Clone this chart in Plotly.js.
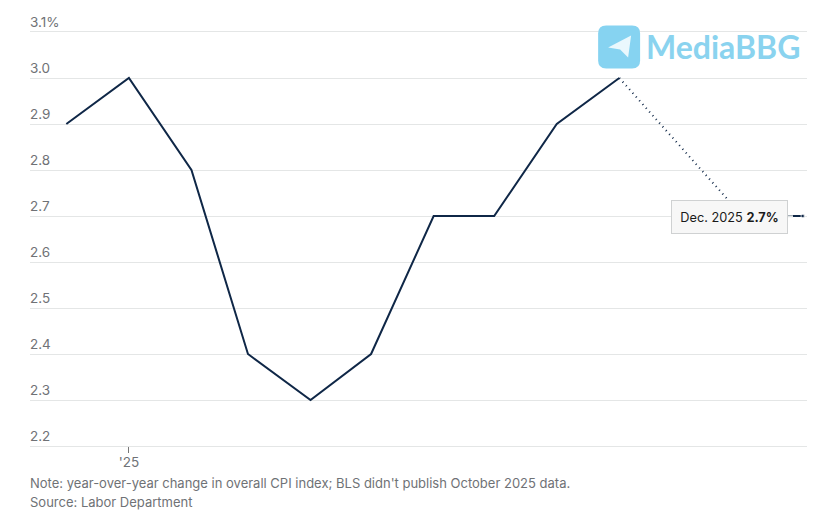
<!DOCTYPE html>
<html>
<head>
<meta charset="utf-8">
<script src="https://cdn.plot.ly/plotly-3.0.1.min.js"></script>
<style>html,body{margin:0;padding:0;background:#fff}</style>
</head>
<body>
<div id="chart" style="width:816px;height:523px"></div>
<script>
const solidDates = ['2024-12-01','2025-01-01','2025-02-01','2025-03-01','2025-04-01','2025-05-01','2025-06-01','2025-07-01','2025-08-01','2025-09-01'];
const solidValues = [2.9,3.0,2.8,2.4,2.3,2.4,2.7,2.7,2.9,3.0];
const gapDates = ['2025-09-01','2025-11-01'];
const gapValues = [3.0,2.7];
const endDates = ['2025-11-01','2025-12-01'];
const endValues = [2.7,2.7];
const yTicks = [2.2,2.3,2.4,2.5,2.6,2.7,2.8,2.9,3.0,3.1];
const yLabels = ['2.2','2.3','2.4','2.5','2.6','2.7','2.8','2.9','3.0','3.1%'];
const xTicks = ['2025-01-01'];
const xLabels = ["'25"];
const noteText = "Note: year-over-year change in overall CPI index; BLS didn't publish October 2025 data.";
const sourceText = "Source: Labor Department";
const labelText = "Dec. 2025 <b>2.7%</b>";

const W = 816, H = 523, L = 29.5, R = 9, T = 31.5, B = 77;
const px = x => (x - L) / (W - L - R);
const py = y => 1 - (y - T) / (H - T - B);
const navy = '#0f2747', grey = '#6f7276', gridCol = '#e4e6e6';
const fontFam = 'Inter, "Liberation Sans", sans-serif';

const traces = [
  {x: solidDates, y: solidValues, mode:'lines', line:{color:navy,width:2}, hoverinfo:'skip'},
  {x: gapDates, y: gapValues, mode:'lines', line:{color:navy,width:2,dash:'1px 4px'}, hoverinfo:'skip'},
  {x: endDates, y: endValues, mode:'lines+markers', line:{color:navy,width:2}, marker:{color:navy,size:[0,4]}, hoverinfo:'skip'}
];
const layout = {
  width: W, height: H,
  margin:{l:L,r:R,t:T,b:B,pad:0},
  paper_bgcolor:'#fff', plot_bgcolor:'#fff',
  showlegend:false,
  font:{family:fontFam,color:grey,size:13},
  xaxis:{type:'date',range:['2024-11-13','2025-12-03'],tickmode:'array',tickvals:xTicks,ticktext:xLabels,
    showgrid:false,zeroline:false,showline:true,mirror:true,linecolor:gridCol,linewidth:1,
    ticks:'outside',ticklen:6,tickwidth:1,tickcolor:'#777',ticklabelstandoff:-2,
    tickfont:{family:fontFam,size:13.5,color:grey}},
  yaxis:{range:[2.2,3.1],tickmode:'array',tickvals:yTicks,ticktext:yLabels,
    ticklabelposition:'inside',ticklabeloverflow:'allow',ticklabelshift:-10,ticklabelstandoff:-3,ticks:'',
    showgrid:true,gridcolor:gridCol,gridwidth:1,zeroline:false,showline:false,
    tickfont:{family:fontFam,size:13.5,color:grey}},
  shapes:[
    {type:'line',xref:'paper',yref:'paper',x0:px(787),x1:px(793),y0:py(216),y1:py(216),line:{color:'#dfe3e4',width:2},layer:'above'},
    {type:'path',xref:'paper',yref:'paper',layer:'above',fillcolor:'#86d3f1',line:{width:0},
      path:`M ${px(606)} ${py(25)} L ${px(632)} ${py(25)} Q ${px(640)} ${py(25)} ${px(640)} ${py(33)} L ${px(640)} ${py(60)} Q ${px(640)} ${py(68)} ${px(632)} ${py(68)} L ${px(606)} ${py(68)} Q ${px(598)} ${py(68)} ${px(598)} ${py(60)} L ${px(598)} ${py(33)} Q ${px(598)} ${py(25)} ${px(606)} ${py(25)} Z`},
    {type:'path',xref:'paper',yref:'paper',layer:'above',fillcolor:'#eaf8fd',line:{width:0},
      path:`M ${px(608)} ${py(47)} L ${px(631)} ${py(35)} L ${px(628)} ${py(57)} L ${px(620)} ${py(49)} Z`}
  ],
  annotations:[
    {xref:'paper',yref:'paper',x:px(27),y:py(483),xanchor:'left',yanchor:'middle',showarrow:false,align:'left',text:noteText,font:{family:fontFam,size:13,color:grey}},
    {xref:'paper',yref:'paper',x:px(27),y:py(502),xanchor:'left',yanchor:'middle',showarrow:false,align:'left',text:sourceText,font:{family:fontFam,size:13,color:grey}},
    {xref:'paper',yref:'paper',x:px(729),y:py(216.5),xanchor:'center',yanchor:'middle',showarrow:false,text:labelText,
      width:113,height:30,bgcolor:'#f7f7f7',bordercolor:'#cfd1d2',borderwidth:1,font:{family:fontFam,size:12.75,color:'#1a1a1a'}},
    {xref:'paper',yref:'paper',x:px(644),y:py(46),xanchor:'left',yanchor:'middle',showarrow:false,text:'<b>MediaBBG</b>',
      font:{family:'Lato, sans-serif',size:32,color:'#8ad3ef',weight:900}}
  ]
};
Plotly.newPlot('chart',traces,layout,{displayModeBar:false,staticPlot:true});
</script>
</body>
</html>
